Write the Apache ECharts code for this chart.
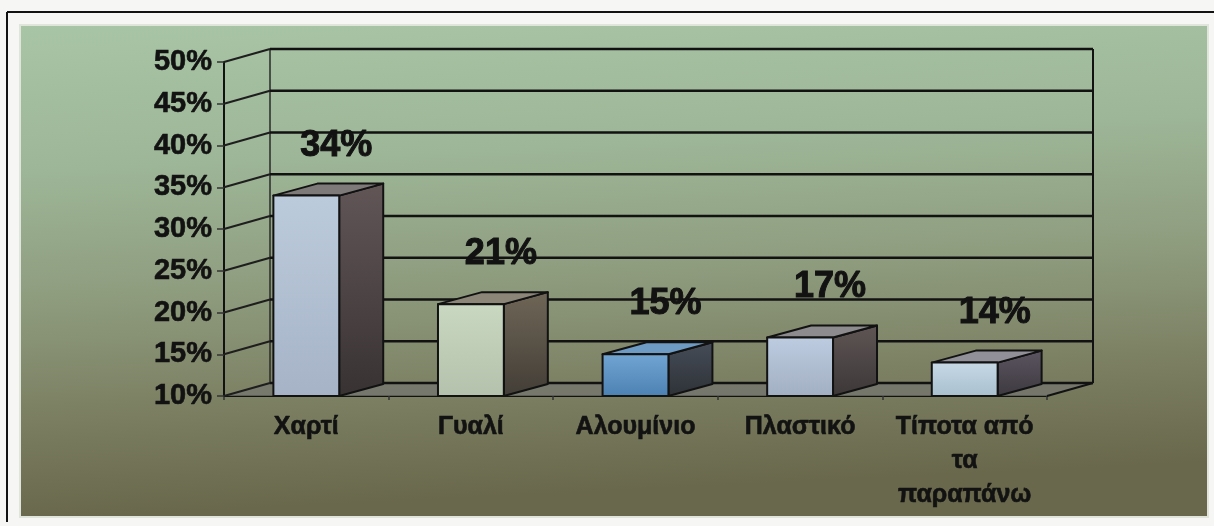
<!DOCTYPE html>
<html>
<head>
<meta charset="utf-8">
<title>Ανακύκλωση υλικών</title>
<script src="https://cdn.jsdelivr.net/npm/echarts@6/dist/echarts.min.js"></script>
<style>
  html, body { margin: 0; padding: 0; background: #f6f6f4; }
  #chart { width: 1214px; height: 526px; }
</style>
</head>
<body>
<div id="chart"></div>
<script>
// ---- data ----
const categories = ['Χαρτί', 'Γυαλί', 'Αλουμίνιο', 'Πλαστικό', 'Τίποτα από\nτα\nπαραπάνω'];
const values = [34, 21, 15, 17, 14];
const yTicks = [10, 15, 20, 25, 30, 35, 40, 45, 50];

// ---- look ----
const FONT = '"Liberation Sans", Arial, sans-serif';
const WALL_DEPTH = [46, -13];   // offset of the back wall from the front plane
const BAR_DEPTH = [44, -12];    // depth of each box
const LABEL_SHIFT = [30, -50];  // value label position relative to the box top
const INK = '#121212';
const barColors = [
  { front: ['#bccbdc', '#a6b3c7'], side: ['#625657', '#383233'], lid: '#7f7a7a' },
  { front: ['#c9d8c1', '#b4c1ac'], side: ['#6f6657', '#423d36'], lid: '#8b8678' },
  { front: ['#72a5d2', '#4b81b3'], side: ['#464d58', '#2e3237'], lid: '#6e9bc3' },
  { front: ['#bdcce0', '#a2afc3'], side: ['#5f5555', '#3c3737'], lid: '#8d8b8d' },
  { front: ['#c7d9e5', '#a8bfcf'], side: ['#5b5561', '#3d393f'], lid: '#918f97' }
];

const chart = echarts.init(document.getElementById('chart'), null, { renderer: 'canvas' });

// back wall grid lines, left side wall, floor
function renderWalls(params, api) {
  const cs = params.coordSys;
  const v = api.value(1);
  const y = api.coord([0, v])[1];
  const dx = WALL_DEPTH[0], dy = WALL_DEPTH[1];
  const left = cs.x, right = cs.x + cs.width;
  const bottom = cs.y + cs.height, topY = cs.y;
  const children = [];
  if (params.dataIndex === 0) {
    children.push({
      type: 'polygon',
      shape: { points: [[left, bottom], [right, bottom], [right + dx, bottom + dy], [left + dx, bottom + dy]] },
      style: { fill: 'rgba(118,118,112,0.75)' }
    });
    children.push({
      type: 'line',
      shape: { x1: right, y1: bottom, x2: right + dx, y2: bottom + dy },
      style: { stroke: INK, lineWidth: 2 }
    });
    children.push({
      type: 'line',
      shape: { x1: left + dx, y1: topY + dy, x2: left + dx, y2: bottom + dy },
      style: { stroke: '#2a2a2a', lineWidth: 1.5 }
    });
    children.push({
      type: 'line',
      shape: { x1: right + dx, y1: topY + dy, x2: right + dx, y2: bottom + dy },
      style: { stroke: INK, lineWidth: 2 }
    });
  }
  children.push({
    type: 'line',
    shape: { x1: left + dx, y1: y + dy, x2: right + dx, y2: y + dy },
    style: { stroke: INK, lineWidth: 2.5 }
  });
  children.push({
    type: 'line',
    shape: { x1: left, y1: y, x2: left + dx, y2: y + dy },
    style: { stroke: '#1e1e1e', lineWidth: 2 }
  });
  return { type: 'group', children: children };
}

// 3D-looking boxes with their value labels
function renderBox(params, api) {
  const i = api.value(0);
  const v = api.value(1);
  const top = api.coord([i, v]);
  const base = api.coord([i, yTicks[0]]);
  const w = api.size([1, 0])[0] * 0.4;
  const x0 = top[0] - w / 2, x1 = top[0] + w / 2;
  const dx = BAR_DEPTH[0], dy = BAR_DEPTH[1];
  const c = barColors[i];
  const edge = { stroke: INK, lineWidth: 2, lineJoin: 'round' };
  return {
    type: 'group',
    children: [
      {
        type: 'polygon',
        shape: { points: [[x1, top[1]], [x1 + dx, top[1] + dy], [x1 + dx, base[1] + dy], [x1, base[1]]] },
        style: Object.assign({
          fill: new echarts.graphic.LinearGradient(0, 0, 0, 1, [
            { offset: 0, color: c.side[0] }, { offset: 1, color: c.side[1] }
          ])
        }, edge)
      },
      {
        type: 'polygon',
        shape: { points: [[x0, top[1]], [x0 + dx, top[1] + dy], [x1 + dx, top[1] + dy], [x1, top[1]]] },
        style: Object.assign({ fill: c.lid }, edge)
      },
      {
        type: 'rect',
        shape: { x: x0, y: top[1], width: w, height: base[1] - top[1] },
        style: Object.assign({
          fill: new echarts.graphic.LinearGradient(0, 0, 0, 1, [
            { offset: 0, color: c.front[0] }, { offset: 1, color: c.front[1] }
          ])
        }, edge)
      },
      {
        type: 'text',
        z2: 10,
        style: {
          text: v + '%',
          x: top[0] + LABEL_SHIFT[0],
          y: top[1] + LABEL_SHIFT[1],
          align: 'center',
          verticalAlign: 'middle',
          fill: INK,
          stroke: INK,
          lineWidth: 1,
          font: 'bold 36px ' + FONT
        }
      }
    ]
  };
}

const option = {
  backgroundColor: '#f6f6f4',
  animation: false,
  graphic: [
    {
      type: 'rect', z: -10, silent: true,
      shape: { x: 20, y: 25, width: 1188, height: 492 },
      style: {
        fill: new echarts.graphic.LinearGradient(0, 0, 0.02, 1, [
          { offset: 0, color: '#a8c5a5' },
          { offset: 0.3, color: '#9db697' },
          { offset: 0.55, color: '#8f9d7f' },
          { offset: 0.8, color: '#7b7e61' },
          { offset: 1, color: '#69684c' }
        ]),
        stroke: '#dfe5da', lineWidth: 2
      }
    },
    { type: 'line', z: -9, silent: true, shape: { x1: 7, y1: 12, x2: 1214, y2: 12 }, style: { stroke: INK, lineWidth: 2 } },
    { type: 'line', z: -9, silent: true, shape: { x1: 7, y1: 12, x2: 7, y2: 522 }, style: { stroke: INK, lineWidth: 2 } }
  ],
  grid: { left: 224, top: 62, width: 823, height: 334, containLabel: false },
  xAxis: {
    type: 'category',
    data: categories,
    axisLine: { show: true, lineStyle: { color: INK, width: 2 } },
    axisTick: { show: true, alignWithLabel: false, interval: 0, length: 4, lineStyle: { color: '#333', width: 1.5 } },
    axisLabel: {
      interval: 0, margin: 14, lineHeight: 34,
      fontFamily: FONT, fontWeight: 'bold', fontSize: 25, color: INK,
      textBorderColor: INK, textBorderWidth: 0.6
    },
    splitLine: { show: false }
  },
  yAxis: {
    type: 'value',
    min: yTicks[0],
    max: yTicks[yTicks.length - 1],
    interval: yTicks[1] - yTicks[0],
    axisLine: { show: true, lineStyle: { color: INK, width: 2 } },
    axisTick: { show: true, length: 7, lineStyle: { color: '#333', width: 1.5 } },
    axisLabel: {
      margin: 12, formatter: function (v) { return v + '%'; },
      fontFamily: FONT, fontWeight: 'bold', fontSize: 29, color: INK,
      textBorderColor: INK, textBorderWidth: 0.6
    },
    splitLine: { show: false }
  },
  series: [
    {
      type: 'custom',
      name: 'walls',
      z: 1,
      clip: false,
      silent: true,
      renderItem: renderWalls,
      data: yTicks.map(function (t) { return [0, t]; })
    },
    {
      type: 'custom',
      name: 'Ποσοστό',
      z: 3,
      clip: false,
      renderItem: renderBox,
      data: values.map(function (v, i) { return [i, v]; })
    }
  ]
};

chart.setOption(option);
</script>
</body>
</html>
